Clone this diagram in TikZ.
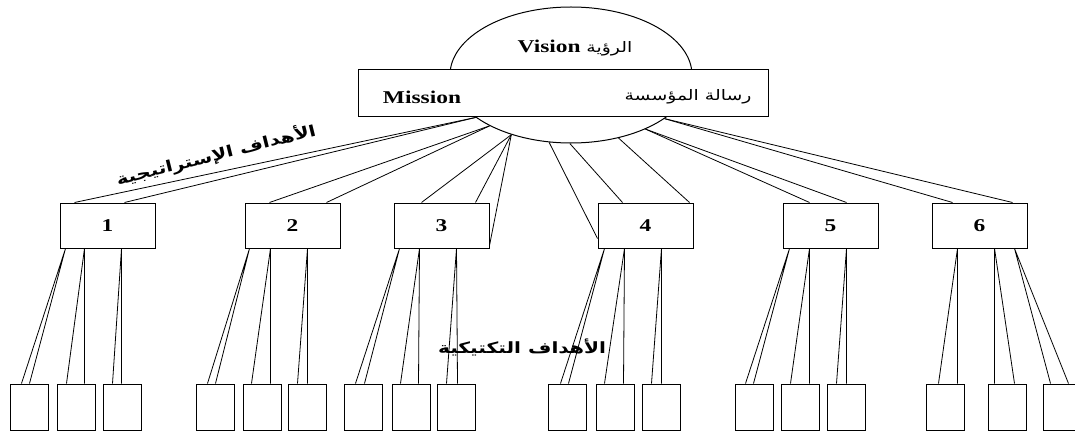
\documentclass[tikz,border=0pt]{standalone}
\usepackage{fontspec}
\setmainfont{Liberation Serif}[FakeStretch=1.3]
\newfontfamily\arabicfont[Script=Arabic,FakeStretch=1.3]{DejaVu Sans}
\TeXXeTstate=1
\usetikzlibrary{shapes.geometric,calc}

\begin{document}
\begin{tikzpicture}[x=1pt, y=-1pt,
  goalbox/.style={draw, line width=1pt, minimum width=95pt, minimum height=45pt, inner sep=0pt, font=\bfseries\fontsize{18}{20}\selectfont},
  taskbox/.style={draw, line width=1pt, minimum width=38pt, minimum height=46pt, inner sep=0pt},
  link/.style={line width=0.8pt},
  latintext/.style={font=\bfseries\fontsize{18}{20}\selectfont},
  arabictext/.style={font=\arabicfont\bfseries\fontsize{15.5}{17}\selectfont}]

\useasboundingbox (0,0) rectangle (1075,433);
\clip (0,0) rectangle (1075,433);

% vision and mission
\node[draw, ellipse, line width=1pt, minimum width=242pt, minimum height=136pt, inner sep=0pt] (vision) at (571,75) {};
\node[draw, fill=white, line width=1pt, minimum width=410pt, minimum height=47pt, inner sep=0pt] (mission) at (563,93.5) {};
\node[latintext] (visiontext) at (575,48) {Vision {\arabicfont\mdseries\fontsize{14.5}{16}\selectfont\beginR الرؤية\endR}};
\node[latintext] (missiontext) at (422,97) {Mission};
\node[font=\arabicfont\fontsize{14.5}{16}\selectfont] (missionar) at (688,97) {\beginR رسالة المؤسسة\endR};

% strategic goals
\node[goalbox] (g1) at (107.5,225.5) {1};
\node[goalbox] (g2) at (292.5,225.5) {2};
\node[goalbox] (g3) at (441.5,225.5) {3};
\node[goalbox] (g4) at (645.5,225.5) {4};
\node[goalbox] (g5) at (830.5,225.5) {5};
\node[goalbox] (g6) at (979.5,225.5) {6};

% tactical goals
\foreach \n/\x in {s11/29, s12/76, s13/122, s21/215, s22/262, s23/307,
                   s31/363, s32/411, s33/456, s41/567, s42/615, s43/661,
                   s51/754, s52/800, s53/846, s61/945, s62/1007, s63/1062}
  \node[taskbox] (\n) at (\x,407) {};

% links from the mission
\draw[link] (vision.204.8) -- ([xshift=15pt]g1.north west);
\draw[link] (vision.204.8) -- ([xshift=65pt]g1.north west);
\draw[link] (vision.212.7) -- ([xshift=25pt]g2.north west);
\draw[link] (vision.212.7) -- ([xshift=82pt]g2.north west);
\draw[link] (vision.225) -- ([xshift=28pt]g3.north west);
\draw[link] (vision.225) -- ([xshift=82pt]g3.north west);
\draw[link] (vision.225) -- ([yshift=3pt]g3.south east);
\draw[link] (vision.252.6) -- ([yshift=10pt]g4.south west);
\draw[link] (vision.269) -- ([xshift=25pt]g4.north west);
\draw[link] (vision.307.9) -- ([xshift=92pt]g4.north west);
\draw[link] (vision.324) -- ([xshift=27pt]g5.north west);
\draw[link] (vision.324) -- ([xshift=64pt]g5.north west);
\draw[link] (vision.335.4) -- ([xshift=21pt]g6.north west);
\draw[link] (vision.335.4) -- ([xshift=81pt]g6.north west);

% links to the tactical goals
\foreach \p/\s/\d/\a/\b in {g1/s11/6/12/20, g1/s12/25/10/28, g1/s13/62/10/19,
                            g2/s21/5/12/20, g2/s22/26/9/28, g2/s23/63/10/20,
                            g3/s31/6/12/21, g3/s32/26/9/27, g3/s33/63/10/21,
                            g4/s41/7/13/21, g4/s42/27/9/28, g4/s43/64/10/20,
                            g5/s51/7/11/19, g5/s52/27/10/29, g5/s53/64/10/20,
                            g6/s61/26/13/32, g6/s62/63/7/27, g6/s63/83/8/26}
  \draw[link] ([xshift=\a pt]\s.north west) -- ([xshift=\d pt]\p.south west) -- ([xshift=\b pt]\s.north west);

% labels
\node[arabictext, rotate=14] (strategic) at (216,155) {\beginR الأهداف الإستراتيجية\endR};
\node[arabictext] (tactical) at (522,347) {\beginR الأهداف التكتيكية\endR};
\end{tikzpicture}
\end{document}
